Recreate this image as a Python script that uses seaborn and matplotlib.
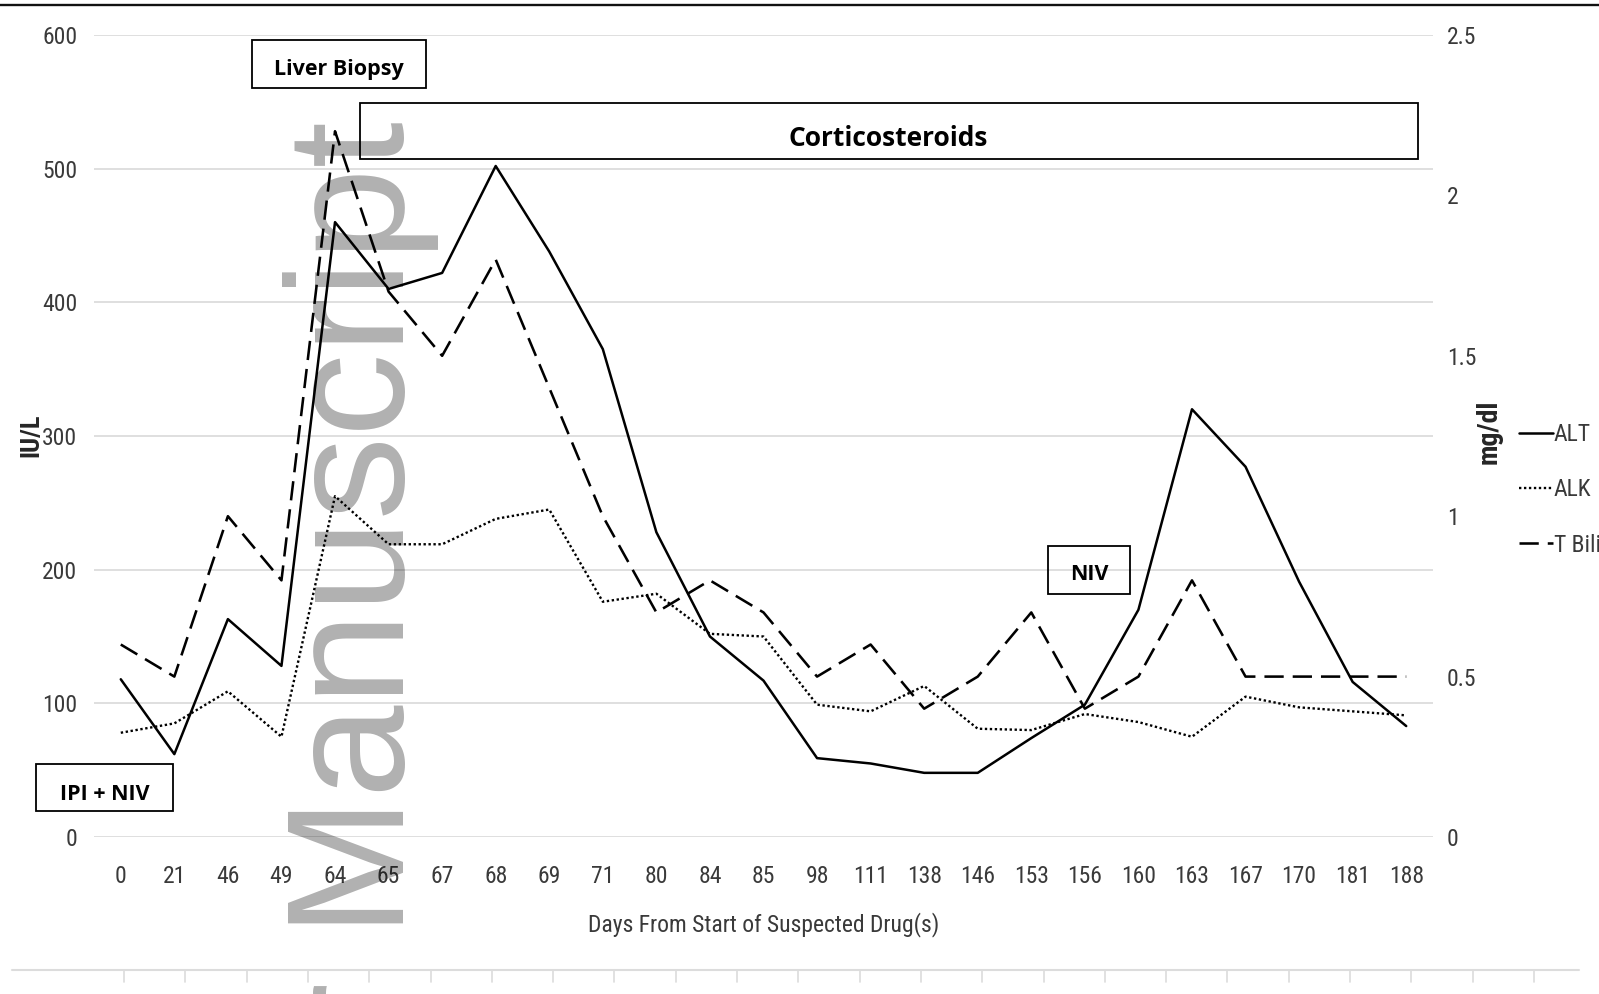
import numpy as np
import pandas as pd
import matplotlib
matplotlib.use("Agg")
import matplotlib.pyplot as plt
from matplotlib import font_manager
from matplotlib.patches import Rectangle
from matplotlib.lines import Line2D
import seaborn as sns

# ---------------- data ----------------
days = [0, 21, 46, 49, 64, 65, 67, 68, 69, 71, 80, 84, 85, 98, 111, 138, 146,
        153, 156, 160, 163, 167, 170, 181, 188]
alt = [118, 62, 163, 128, 460, 410, 422, 502, 438, 365, 228, 150, 117, 59, 55,
       48, 48, 74, 99, 170, 320, 277, 191, 116, 83]
alk = [78, 85, 109, 75, 255, 219, 219, 238, 245, 176, 182, 152, 150, 99, 94,
       113, 81, 80, 92, 86, 75, 105, 97, 94, 91]
tbili = [0.6, 0.5, 1.0, 0.8, 2.2, 1.7, 1.5, 1.8, 1.4, 1.0, 0.7, 0.8, 0.7, 0.5,
         0.6, 0.4, 0.5, 0.7, 0.4, 0.5, 0.8, 0.5, 0.5, 0.5, 0.5]
series_names = ["ALT", "ALK", "T Bili"]
left_ticks = [0, 100, 200, 300, 400, 500, 600]
right_ticks = [0, 0.5, 1, 1.5, 2, 2.5]
right_tick_labels = ["0", "0.5", "1", "1.5", "2", "2.5"]
annotations = ["Liver Biopsy", "Corticosteroids", "NIV", "IPI + NIV"]

# ---------------- style ----------------
sns.set_theme(style="white")
available = {f.name for f in font_manager.fontManager.ttflist}


def pick(cands, default="DejaVu Sans"):
    for c in cands:
        if c in available:
            return c
    return default


narrow = pick(["Liberation Sans Narrow", "Roboto Condensed", "Open Sans Condensed",
               "Liberation Sans"])
boldf = pick(["Open Sans", "Lato", "DejaVu Sans"])
wmf = pick(["Liberation Sans", "Arimo", "DejaVu Sans"])
plt.rcParams["font.family"] = [narrow, "DejaVu Sans"]

W, H = 1599, 994
fig = plt.figure(figsize=(W / 100, H / 100), dpi=100)


def fx(x):
    return x / W


def fy(y):
    return 1 - y / H


ax = fig.add_axes([fx(94), fy(837), fx(1433) - fx(94), fy(35) - fy(837)])
ax2 = ax.twinx()

idx = np.arange(len(days))
df = pd.DataFrame({"idx": idx, "ALT": alt, "ALK": alk, "TBili": tbili})

sns.lineplot(data=df, x="idx", y="ALT", ax=ax, color="black", linewidth=1.8,
             legend=False)
l_alt = ax.lines[-1]
sns.lineplot(data=df, x="idx", y="ALK", ax=ax, color="black", linewidth=1.7,
             legend=False)
l_alk = ax.lines[-1]
l_alk.set_dashes((1, 1.1))
sns.lineplot(data=df, x="idx", y="TBili", ax=ax2, color="black", linewidth=1.85,
             legend=False)
l_tb = ax2.lines[-1]
l_tb.set_dashes((7.5, 3.5))

tick_col = "#3a3a3a"
ax.set_xlim(-0.5, len(days) - 0.5)
ax.set_ylim(0, 600)
ax.set_yticks(left_ticks)
ax.set_xticks(idx)
ax.set_xticklabels([str(d) for d in days])
ax.grid(axis="y", color="#d9d9d9", linewidth=1.2)
ax.grid(axis="x", visible=False)
ax.tick_params(axis="x", length=0, labelsize=17, colors=tick_col, pad=20)
ax.tick_params(axis="y", length=0, labelsize=17, colors=tick_col, pad=12)
ax.set_ylabel("")
ax.set_xlabel("Days From Start of Suspected Drug(s)", fontsize=17, color=tick_col)
ax.xaxis.set_label_coords(0.5, (837 - 912) / 802)

ax2.set_ylim(0, 2.5)
ax2.set_yticks(right_ticks)
ax2.set_yticklabels(right_tick_labels)
ax2.grid(False)
ax2.tick_params(axis="y", length=0, labelsize=17, colors=tick_col, pad=10)
ax2.set_ylabel("")
for a in (ax, ax2):
    for s in a.spines.values():
        s.set_visible(False)

# axis titles
fig.text(fx(31), fy(435), "IU/L", rotation=90, ha="center", va="center",
         fontsize=19, fontweight="semibold", color="#262626")
fig.text(fx(1489), fy(432), "mg/dl", rotation=90, ha="center", va="center",
         fontsize=20, fontweight="bold", color="#262626")

# legend
fig.legend(handles=[l_alt, l_alk, l_tb], labels=series_names, loc="center left",
           bbox_to_anchor=(fx(1519), fy(490)), frameon=False, fontsize=17,
           handlelength=1.42, handletextpad=0.05, labelspacing=1.36,
           borderpad=0, borderaxespad=0, labelcolor=tick_col)

# annotation boxes (figure pixel coordinates)
boxes = [
    ((252, 40, 426, 88), (339, 69), annotations[0], 15.5),
    ((360, 103, 1418, 159), (888, 138), annotations[1], 19),
    ((1048, 546, 1130, 594), (1089, 575), annotations[2], 15.5),
    ((36, 764, 173, 811), (105, 794), annotations[3], 15.5),
]
for (x0, y0, x1, y1), (tx, ty), txt, fs in boxes:
    fig.add_artist(Rectangle((fx(x0), fy(y1)), fx(x1) - fx(x0), fy(y0) - fy(y1),
                             transform=fig.transFigure, fill=False,
                             edgecolor="black", linewidth=1.3, zorder=6))
    fig.text(fx(tx), fy(ty), txt, ha="center", va="center", fontsize=fs,
             fontweight="bold", family=[boldf, "DejaVu Sans"], color="black",
             zorder=7)

# page decorations: top rule, bottom rule with ticks
fig.add_artist(Line2D([0, 1], [fy(5), fy(5)], transform=fig.transFigure,
                      color="#111111", linewidth=1.7))
fig.add_artist(Line2D([fx(12), fx(1579)], [fy(970), fy(970)],
                      transform=fig.transFigure, color="#dcdcdc", linewidth=1.5))
for k in range(24):
    xk = 124 + 61.3 * k
    fig.add_artist(Line2D([fx(xk), fx(xk)], [fy(970), fy(982)],
                          transform=fig.transFigure, color="#dcdcdc",
                          linewidth=1.2))

# watermark
fig.text(fx(404), fy(121), "Author Manuscript", rotation=90,
         rotation_mode="anchor", ha="right", va="baseline", fontsize=120,
         family=[wmf, "DejaVu Sans"], color="black", alpha=0.31, zorder=10)

fig.savefig("out.png", dpi=100, facecolor="white")
